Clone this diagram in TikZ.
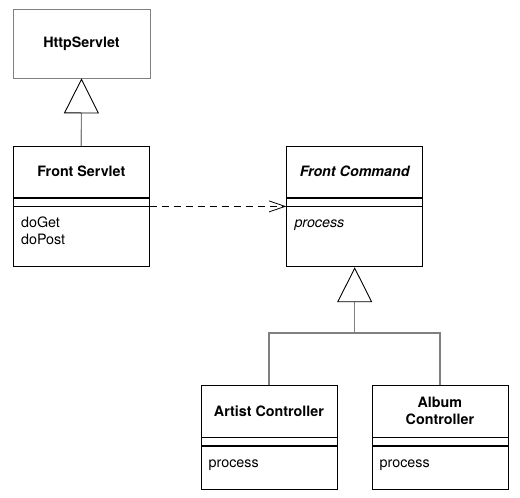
\documentclass[tikz,border=0pt]{standalone}
\usepackage{fontspec}
\setmainfont{TeX Gyre Heros}
\usetikzlibrary{arrows.meta,positioning,calc}

\begin{document}
\begin{tikzpicture}[x=1pt, y=-1pt,
    font=\fontsize{14.3}{17}\selectfont,
    namebox/.style={rectangle, draw, line width=0.8pt, minimum width=136pt, minimum height=51pt, inner sep=0pt, font=\fontsize{14.3}{17}\selectfont\bfseries, align=center},
    gapbox/.style={rectangle, draw, line width=0.8pt, minimum width=136pt, minimum height=8pt, inner sep=0pt},
    opsbox/.style={rectangle, draw, line width=0.8pt, minimum width=136pt, minimum height=60pt, inner sep=0pt},
    opstext/.style={anchor=north west, inner sep=0pt, align=left},
    genline/.style={draw=gray, line width=1.2pt},
    gen/.style={genline, -{Triangle[open, length=35pt, width=35pt, line width=0.9pt, color=black]}},
    dep/.style={line width=0.8pt, dash pattern=on 7pt off 5pt, -{Straight Barb[length=16pt, width=11pt, line width=0.8pt]}}
]
\useasboundingbox (0,0) rectangle (520,498);

% HttpServlet
\node[namebox, draw=gray, minimum width=137pt, minimum height=69pt] (http) at (81.5,43.5) {HttpServlet};

% Front Servlet
\node[namebox] (fs) at (81.3,171.7) {Front Servlet};
\node[gapbox, below=0pt of fs] (fsGap) {};
\node[opsbox, below=0pt of fsGap] (fsOps) {};
\node[opstext] (fsOpsText) at ($(fsOps.north west)+(8,9.2)$) {\strut doGet\\doPost};

% Front Command
\node[namebox, font=\fontsize{14.3}{17}\selectfont\bfseries\itshape] (fc) at (354.7,171.7) {Front Command};
\node[gapbox, below=0pt of fc] (fcGap) {};
\node[opsbox, below=0pt of fcGap] (fcOps) {};
\node[opstext, font=\fontsize{14.3}{17}\selectfont\itshape] (fcOpsText) at ($(fcOps.north west)+(8,9.2)$) {\strut process};

% controllers
\node[namebox, minimum height=52pt] (artist) at (268.9,411) {Artist Controller};
\node[gapbox, below=0pt of artist] (artistGap) {};
\node[opsbox, minimum height=43pt, below=0pt of artistGap] (artistOps) {};
\node[opstext] (artistOpsText) at ($(artistOps.north west)+(8,9.2)$) {\strut process};

\node[namebox, minimum height=52pt] (album) at (439.9,411) {Album\\Controller};
\node[gapbox, below=0pt of album] (albumGap) {};
\node[opsbox, minimum height=43pt, below=0pt of albumGap] (albumOps) {};
\node[opstext] (albumOpsText) at ($(albumOps.north west)+(8,9.2)$) {\strut process};

% connectors
\draw[gen] (fs.north) -- (http.south);
\draw[dep] (fsGap.south east) -- (fcGap.south west);
\coordinate (join) at (354.7,333);
\draw[genline] (artist.north) |- (join) -| (album.north);
\draw[gen] (join) -- (fcOps.south);
\end{tikzpicture}
\end{document}
